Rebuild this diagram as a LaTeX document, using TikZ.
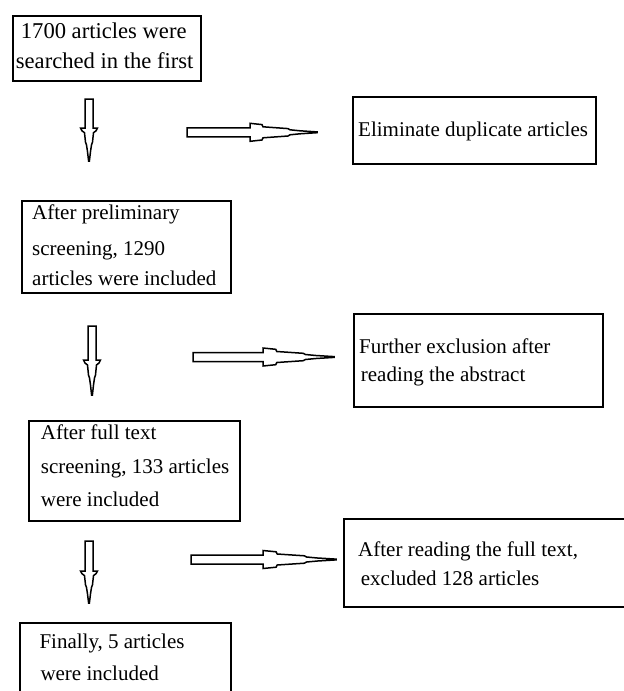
\documentclass[tikz,border=0pt]{standalone}
\usepackage{fontspec}
\setmainfont{Liberation Serif}
\newcommand\RArr[4]{% tail x, center y, head start x, tip x
  \pgfmathsetmacro\hk{(#4-#3)/67}
  \draw[arrline] (#1,#2-4.5) -- (#3,#2-4.5) -- (#3,#2-9) -- ({#3+12*\hk},#2-7.7) -- ({#3+13*\hk},#2-5.5)
    -- ({#3+38*\hk},#2-3.7) -- ({#3+40*\hk},#2-2.5) -- ({#3+50*\hk},#2-1.5) -- (#4,#2-0.4) -- (#4,#2+0.4)
    -- ({#3+50*\hk},#2+1.5) -- ({#3+40*\hk},#2+2.5) -- ({#3+38*\hk},#2+3.7) -- ({#3+13*\hk},#2+5.5)
    -- ({#3+12*\hk},#2+7.7) -- (#3,#2+9) -- (#3,#2+4.5) -- (#1,#2+4.5) -- cycle;
}
\newcommand\DArr[4]{% center x, top y, head start y, tip y
  \pgfmathsetmacro\hk{(#4-#3)/35}
  \draw[arrline] (#1-4,#2) -- (#1-4,#3) -- (#1-8.5,#3) -- (#1-7,{#3+3*\hk}) -- (#1-4.5,{#3+5*\hk})
    -- (#1-3.5,{#3+15*\hk}) -- (#1-2.5,{#3+18*\hk}) -- (#1-1.5,{#3+25*\hk}) -- (#1-0.4,#4) -- (#1+0.4,#4)
    -- (#1+1.5,{#3+25*\hk}) -- (#1+2.5,{#3+18*\hk}) -- (#1+3.5,{#3+15*\hk}) -- (#1+4.5,{#3+5*\hk})
    -- (#1+7,{#3+3*\hk}) -- (#1+8.5,#3) -- (#1+4,#3) -- (#1+4,#2) -- cycle;
}
\begin{document}
\begin{tikzpicture}[x=1pt,y=-1pt,
  box/.style={draw=black, line width=2pt, rectangle, inner sep=0pt, anchor=north west},
  txt/.style={font=\fontsize{21}{25}\selectfont, inner sep=0pt, anchor=base west},
  bigtxt/.style={txt, font=\fontsize{22.6}{27}\selectfont},
  arrline/.style={draw=black, line width=1.5pt, line join=miter, fill=white}]
\path[use as bounding box, clip] (0,0) rectangle (624,691);
\fill[white] (0,0) rectangle (624,691);
% boxes
\node[box, minimum width=188pt, minimum height=65pt] (b1) at (12,15.3) {};
\node[box, minimum width=243pt, minimum height=67pt] (b2) at (352,96) {};
\node[box, minimum width=209pt, minimum height=92pt] (b3) at (21,200) {};
\node[box, minimum width=249pt, minimum height=93pt] (b4) at (353,313) {};
\node[box, minimum width=211pt, minimum height=100pt] (b5) at (28,420) {};
\node[box, minimum width=297pt, minimum height=88pt] (b6) at (343,518) {};
\node[box, minimum width=211pt, minimum height=98pt] (b7) at (19,622) {};
% texts
\node[bigtxt] (t1a) at (20.7,38) {1700 articles were};
\node[bigtxt] (t1b) at (15.7,68.5) {searched in the first};
\node[txt] (t2a) at (358,136.7) {Eliminate duplicate articles};
\node[txt] (t3a) at (32,219.5) {After preliminary};
\node[txt] (t3b) at (32,255.5) {screening, 1290};
\node[txt] (t3c) at (32,285) {articles were included};
\node[txt] (t4a) at (359,353) {Further exclusion after};
\node[txt] (t4b) at (360.7,381) {reading the abstract};
\node[txt] (t5a) at (40.7,439) {After full text};
\node[txt] (t5b) at (40.7,473) {screening, 133 articles};
\node[txt] (t5c) at (40.7,506) {were included};
\node[txt] (t6a) at (358,556.7) {After reading the full text,};
\node[txt] (t6b) at (360.7,585) {excluded 128 articles};
\node[txt] (t7a) at (39.3,648) {Finally, 5 articles};
\node[txt] (t7b) at (40.3,680) {were included};
% arrows
\DArr{89}{99}{128}{161}
\DArr{92}{326}{360}{395}
\DArr{89}{541}{571}{603}
\RArr{187}{132.3}{250}{317}
\RArr{193}{357}{263}{334}
\RArr{191}{559.5}{263}{336}
\end{tikzpicture}
\end{document}
